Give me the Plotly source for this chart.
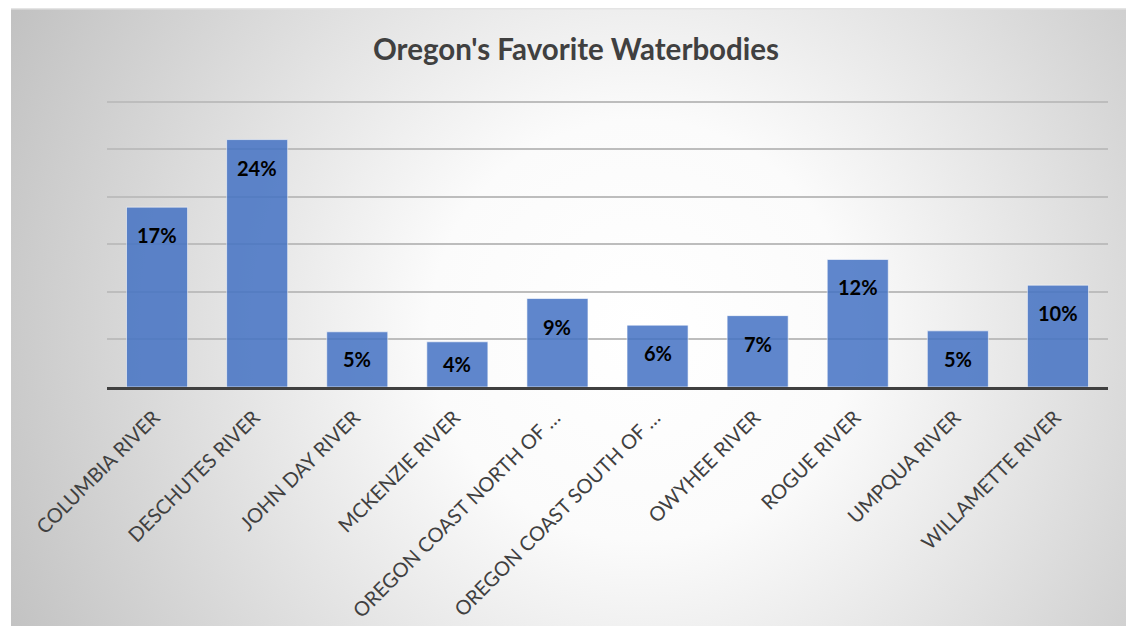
import base64
import plotly.graph_objects as go

# ---- data ----
categories = [
    "COLUMBIA RIVER", "DESCHUTES RIVER", "JOHN DAY RIVER", "MCKENZIE RIVER",
    "OREGON COAST NORTH OF …", "OREGON COAST SOUTH OF …", "OWYHEE RIVER",
    "ROGUE RIVER", "UMPQUA RIVER", "WILLAMETTE RIVER",
]
votes = [18.9, 26.0, 5.8, 4.75, 9.3, 6.5, 7.5, 13.4, 5.9, 10.7]
title_text = "Oregon's Favorite Waterbodies"

total = sum(votes)
shares = [v / total for v in votes]
labels = [f"{round(s * 100)}%" for s in shares]

# ---- layout geometry (page coordinates; body margin removed) ----
W, H = 1126, 626
ML, MR, MT, MB = 107, 18, 92, 239
YMAX, DTICK = 31, 5
plot_w = W - ML - MR
plot_h = H - MT - MB
px_per_unit = plot_h / YMAX

# radial gradient background for the chart area
bx0, by0 = 11, 8
bw, bh = W - bx0, H - by0
svg = f"""<svg xmlns='http://www.w3.org/2000/svg' width='{bw}' height='{bh}' viewBox='0 0 {bw} {bh}'>
<defs><radialGradient id='g' gradientUnits='userSpaceOnUse' cx='{640 - bx0}' cy='{330 - by0}' r='700'>
<stop offset='0' stop-color='#ffffff'/>
<stop offset='0.3' stop-color='#fbfbfb'/>
<stop offset='0.75' stop-color='#d6d6d6'/>
<stop offset='1' stop-color='#c2c2c2'/>
</radialGradient></defs>
<rect x='0' y='0' width='{bw}' height='{bh}' fill='url(#g)'/>
<rect x='0' y='0' width='{bw}' height='1.5' fill='#e4e4e4'/>
</svg>"""
src = "data:image/svg+xml;base64," + base64.b64encode(svg.encode()).decode()

FONT = "Lato, Carlito, sans-serif"

fig = go.Figure()
fig.add_trace(go.Bar(
    x=categories, y=votes,
    marker=dict(color="#4472C4", opacity=0.85,
                line=dict(color="rgba(255,255,255,0.6)", width=1)),
    hoverinfo="skip",
))

annotations = []
for c, v, lab in zip(categories, votes, labels):
    shift = -min(28, v * px_per_unit / 2)
    annotations.append(dict(
        x=c, y=v, xref="x", yref="y", text=f"<b>{lab}</b>", showarrow=False,
        yshift=shift, xanchor="center", yanchor="middle",
        font=dict(family=FONT, size=20, color="#000000"),
    ))

fig.update_layout(
    width=W, height=H,
    margin=dict(l=ML, r=MR, t=MT, b=MB, pad=0, autoexpand=False),
    paper_bgcolor="#ffffff",
    plot_bgcolor="rgba(0,0,0,0)",
    bargap=0.39,
    showlegend=False,
    title=dict(text=f"<b>{title_text}</b>", x=576 / W, xanchor="center",
               y=1 - 50 / H, yanchor="middle",
               font=dict(family=FONT, size=29.5, color="#404040")),
    annotations=annotations,
    images=[dict(
        source=src, xref="paper", yref="paper",
        x=(bx0 - ML) / plot_w, y=(H - MB - by0) / plot_h,
        sizex=bw / plot_w, sizey=bh / plot_h,
        sizing="stretch", xanchor="left", yanchor="top", layer="below",
    )],
    xaxis=dict(
        tickangle=-45, showline=True, linecolor="#404040", linewidth=3,
        ticks="", showgrid=False, ticklabelstandoff=8, ticklabelshift=-3,
        automargin=False,
        tickfont=dict(family=FONT, size=20, color="#404040"),
    ),
    yaxis=dict(
        range=[0, YMAX], tick0=0, dtick=DTICK, showticklabels=False, ticks="",
        showgrid=True, gridcolor="#bdbdbd", gridwidth=1.5, zeroline=False,
        showline=False, automargin=False,
    ),
)

fig.write_html(
    "out.html",
    config={"displayModeBar": False},
    post_script="document.body.style.margin='0';",
)
